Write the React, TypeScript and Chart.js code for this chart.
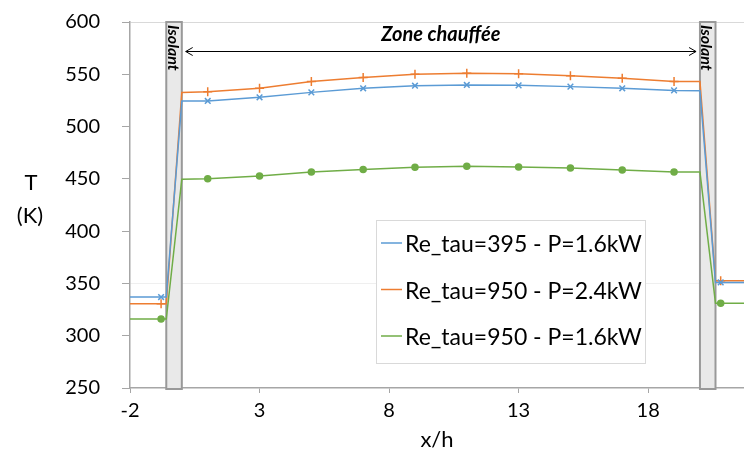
import { useEffect, useRef } from "react";
import { Chart, registerables } from "chart.js";

Chart.register(...registerables);

// ---- Data ----
const xPositions = [-2, -0.8, -0.6, 0, 1, 3, 5, 7, 9, 11, 13, 15, 17, 19, 20, 20.6, 20.8, 21.7];
const tempRe395P16 = [337, 337, 337, 524.5, 524.5, 528, 532.7, 536.6, 539.1, 539.8, 539.4, 538.2, 536.6, 534.6, 534.3, 351, 351, 351];
const tempRe950P24 = [330.5, 330.5, 330.5, 532.7, 533.4, 536.6, 543, 547, 550, 551, 550.6, 548.7, 546.2, 543, 543, 352.5, 352.5, 352.5];
const tempRe950P16 = [316, 316, 316, 449.6, 450, 452.7, 456.6, 459, 461, 462, 461.4, 460.5, 458.5, 456.6, 456.6, 331, 331, 331];
const markerPositions = [-0.8, 1, 3, 5, 7, 9, 11, 13, 15, 17, 19, 20.8];
const seriesLabels = ["Re_tau=395 - P=1.6kW", "Re_tau=950 - P=2.4kW", "Re_tau=950 - P=1.6kW"];
const seriesColors = ["#5B9BD5", "#ED7D31", "#70AD47"];
const xTickValues = [-2, 3, 8, 13, 18];
const insulatorRanges = [
  [-0.6, 0],
  [20, 20.6],
];
const heatedZoneRange = [0.15, 19.85];
const heatedZoneLabel = "Zone chauffée";
const insulatorLabel = "Isolant";
const yTitleLines = ["T", "(K)"];

const FONT = "Lato, 'Open Sans', sans-serif";

const overlayPlugin = {
  id: "overlay",
  beforeDatasetsDraw(chart: any) {
    const { ctx, scales } = chart;
    const xs = scales.x;
    const ys = scales.y;
    const top = ys.getPixelForValue(ys.max);
    const bottom = ys.getPixelForValue(ys.min);
    ctx.save();
    for (const [a, b] of insulatorRanges) {
      const l = xs.getPixelForValue(a);
      const r = xs.getPixelForValue(b);
      ctx.fillStyle = "#E9E9E9";
      ctx.fillRect(l, top, r - l, bottom - top + 1);
      ctx.strokeStyle = "#999999";
      ctx.lineWidth = 2;
      ctx.strokeRect(l, top, r - l, bottom - top + 1);
      ctx.save();
      ctx.translate(l + 1.5, top + 3);
      ctx.rotate(Math.PI / 2);
      ctx.fillStyle = "#000";
      ctx.font = `italic bold 16px ${FONT}`;
      ctx.textAlign = "left";
      ctx.textBaseline = "alphabetic";
      ctx.fillText(insulatorLabel, 0, 0);
      ctx.restore();
    }
    ctx.restore();
  },
  afterDraw(chart: any) {
    const { ctx, scales, chartArea } = chart;
    const xs = scales.x;
    ctx.save();
    // heated zone arrow
    const x0 = xs.getPixelForValue(heatedZoneRange[0]);
    const x1 = xs.getPixelForValue(heatedZoneRange[1]);
    const ay = chartArea.top + 29.5;
    ctx.strokeStyle = "#000";
    ctx.lineWidth = 1;
    ctx.beginPath();
    ctx.moveTo(x0, ay);
    ctx.lineTo(x1, ay);
    ctx.moveTo(x0 + 7, ay - 4);
    ctx.lineTo(x0, ay);
    ctx.lineTo(x0 + 7, ay + 4);
    ctx.moveTo(x1 - 7, ay - 4);
    ctx.lineTo(x1, ay);
    ctx.lineTo(x1 - 7, ay + 4);
    ctx.stroke();
    ctx.fillStyle = "#000";
    ctx.font = `italic bold 20px ${FONT}`;
    ctx.textAlign = "center";
    ctx.textBaseline = "middle";
    ctx.fillText(heatedZoneLabel, (x0 + x1) / 2, chartArea.top + 13);

    // legend
    const lx = 376;
    const ly = 220;
    const lw = 269;
    const lh = 143;
    ctx.fillStyle = "#FFFFFF";
    ctx.fillRect(lx, ly, lw, lh);
    ctx.strokeStyle = "#D9D9D9";
    ctx.lineWidth = 1;
    ctx.strokeRect(lx + 0.5, ly + 0.5, lw, lh);
    ctx.font = `23px ${FONT}`;
    ctx.textAlign = "left";
    ctx.textBaseline = "middle";
    seriesLabels.forEach((label, i) => {
      const cy = ly + 24 + i * 46.5;
      ctx.strokeStyle = seriesColors[i];
      ctx.lineWidth = 1.5;
      ctx.beginPath();
      ctx.moveTo(lx + 5, cy - 1);
      ctx.lineTo(lx + 26, cy - 1);
      ctx.stroke();
      ctx.fillStyle = "#000";
      ctx.fillText(label, lx + 29, cy + 1);
    });

    // y title
    ctx.font = `22px ${FONT}`;
    ctx.textAlign = "center";
    ctx.fillStyle = "#000";
    ctx.fillText(yTitleLines[0], 31, 183);
    ctx.fillText(yTitleLines[1], 30, 216);
    ctx.restore();
  },
};

function markerRadius(r: number) {
  return (c: any) => (markerPositions.includes(xPositions[c.dataIndex]) ? r : 0);
}

export default function App() {
  const canvasRef = useRef<HTMLCanvasElement | null>(null);

  useEffect(() => {
    document.body.style.margin = "0";
    const canvas = canvasRef.current;
    if (!canvas) return;
    const series = [tempRe395P16, tempRe950P24, tempRe950P16];
    const styles = ["crossRot", "cross", "circle"];
    const radii = [4, 4.5, 3];
    const chart = new Chart(canvas, {
      type: "line",
      data: {
        datasets: series.map((vals, i) => ({
          label: seriesLabels[i],
          data: vals.map((v, j) => ({ x: xPositions[j], y: v })),
          borderColor: seriesColors[i],
          backgroundColor: seriesColors[i],
          borderWidth: 1.5,
          pointStyle: styles[i] as any,
          pointRadius: markerRadius(radii[i]) as any,
          pointHoverRadius: 0,
          pointBorderWidth: 1.5,
          pointBorderColor: seriesColors[i],
          pointBackgroundColor: seriesColors[i],
          tension: 0,
          fill: false,
        })),
      },
      options: {
        responsive: false,
        animation: false,
        events: [],
        layout: { padding: { top: 22, right: 0, left: 0, bottom: 0 } },
        plugins: {
          legend: { display: false },
          tooltip: { enabled: false },
        },
        scales: {
          x: {
            type: "linear",
            min: -2,
            max: 21.7,
            afterBuildTicks: (s: any) => {
              s.ticks = xTickValues.map((v) => ({ value: v }));
            },
            afterFit: (s: any) => {
              s.height = 73;
              s.paddingLeft = 0;
              s.paddingRight = 0;
            },
            ticks: {
              autoSkip: false,
              maxRotation: 0,
              padding: 6,
              color: "#000",
              font: { family: FONT, size: 20 },
              callback: (v: any) => String(v),
            },
            grid: {
              drawOnChartArea: false,
              drawTicks: true,
              tickLength: 5,
              tickColor: "#A6A6A6",
            },
            border: { color: "#A6A6A6", width: 1.5 },
            title: {
              display: true,
              text: "x/h",
              color: "#000",
              font: { family: FONT, size: 22 },
              padding: { top: 0, bottom: 8 },
            },
          },
          y: {
            min: 250,
            max: 600,
            afterFit: (s: any) => {
              s.width = 130;
              s.paddingTop = 0;
              s.paddingBottom = 0;
            },
            ticks: {
              stepSize: 50,
              padding: 22,
              color: "#000",
              font: { family: FONT, size: 20 },
            },
            grid: {
              color: (c: any) =>
                c.tick && c.tick.value === 600
                  ? "#D9D9D9"
                  : c.tick && c.tick.value === 350
                  ? "#EFEFEF"
                  : "rgba(0,0,0,0)",
              drawTicks: true,
              tickLength: 8,
              tickColor: "#A6A6A6",
            },
            border: { color: "#A6A6A6", width: 1.5 },
          },
        },
      },
      plugins: [overlayPlugin],
    });
    return () => chart.destroy();
  }, []);

  return (
    <div style={{ width: 744, height: 461 }}>
      <canvas ref={canvasRef} width={744} height={461} style={{ display: "block" }} />
    </div>
  );
}
